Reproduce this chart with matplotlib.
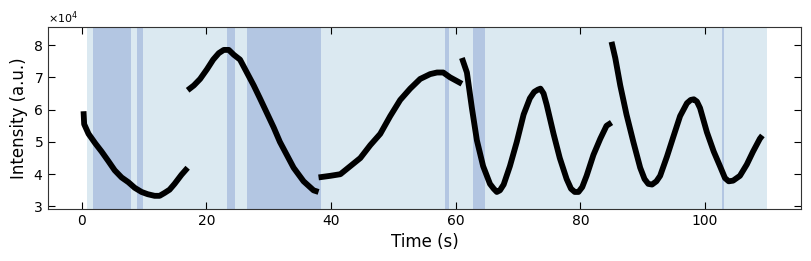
import matplotlib
matplotlib.use("Agg")
import matplotlib.pyplot as plt
from matplotlib.ticker import ScalarFormatter

# --- data ---
seg1_t = [0.3, 0.4, 1.1, 2.2, 3.2, 4.3, 5.3, 6.4, 7.5, 8.5, 9.6, 10.6, 11.7, 12.5, 13.3, 14.1, 14.9, 16.0, 17.0]
seg1_v = [5.95, 5.55, 5.25, 4.95, 4.7, 4.4, 4.12, 3.9, 3.75, 3.58, 3.45, 3.38, 3.33, 3.33, 3.42, 3.52, 3.7, 3.98, 4.2]

seg2_t = [17.0, 18.0, 19.0, 20.1, 21.1, 22.0, 22.8, 23.6, 24.4, 25.4, 26.5, 27.6, 28.6, 29.7, 30.8, 31.8, 32.9, 34.0, 35.6, 37.2, 38.0]
seg2_v = [6.6, 6.75, 6.95, 7.25, 7.55, 7.75, 7.85, 7.85, 7.7, 7.55, 7.15, 6.75, 6.35, 5.9, 5.45, 5.0, 4.6, 4.2, 3.78, 3.5, 3.45]

seg3_t = [38.0, 39.9, 41.5, 43.1, 44.7, 46.3, 47.9, 49.5, 51.1, 52.7, 54.3, 55.9, 57.0, 58.0, 59.1, 61.0]
seg3_v = [3.9, 3.95, 4.0, 4.25, 4.5, 4.9, 5.25, 5.8, 6.3, 6.65, 6.95, 7.1, 7.15, 7.15, 7.0, 6.8]

seg4_t = [61.0, 61.8, 62.6, 63.4, 64.4, 65.5, 66.1, 66.6, 67.1, 67.7, 68.7, 69.8, 70.9, 71.9, 72.6, 73.2, 73.6, 74.1, 74.6, 75.7, 76.7, 77.8, 78.5, 79.1, 79.7, 80.3, 81.0, 82.1, 83.2, 84.2, 85.0]
seg4_v = [7.6, 7.15, 6.05, 5.05, 4.25, 3.7, 3.55, 3.45, 3.5, 3.68, 4.25, 5.0, 5.85, 6.35, 6.55, 6.62, 6.65, 6.5, 6.15, 5.25, 4.5, 3.85, 3.55, 3.45, 3.45, 3.6, 3.95, 4.6, 5.1, 5.5, 5.6]

seg5_t = [85.0, 85.6, 86.4, 87.4, 88.5, 89.6, 90.3, 90.9, 91.5, 92.2, 92.8, 93.9, 94.9, 96.0, 97.1, 97.7, 98.2, 98.7, 99.2, 100.3, 101.4, 102.4, 103.2, 103.8, 104.5, 105.6, 106.7, 107.7, 108.8, 109.2]
seg5_v = [8.1, 7.6, 6.75, 5.85, 5.0, 4.2, 3.85, 3.7, 3.68, 3.78, 3.95, 4.55, 5.15, 5.8, 6.2, 6.3, 6.32, 6.25, 6.05, 5.3, 4.7, 4.25, 3.88, 3.78, 3.8, 3.95, 4.3, 4.7, 5.1, 5.2]

segments = [(seg1_t, seg1_v), (seg2_t, seg2_v), (seg3_t, seg3_v), (seg4_t, seg4_v), (seg5_t, seg5_v)]

light_span = (0.9, 110.0)
dark_spans = [(1.85, 7.95), (8.9, 9.85), (23.35, 24.6), (26.55, 38.4), (58.3, 58.9), (62.8, 64.7), (102.7, 103.05)]

scale = 1e4

fig = plt.figure(figsize=(8.11, 2.61), dpi=100)
ax = fig.add_axes([0.0592, 0.199, 0.9285, 0.6976])

ax.axvspan(light_span[0], light_span[1], color="#dbe9f1", lw=0, zorder=0)
for a, b in dark_spans:
    ax.axvspan(a, b, color="#b3c6e2", lw=0, zorder=1)

for t, v in segments:
    ax.plot(t, [x * scale for x in v], color="black", lw=4.2, solid_joinstyle="round", solid_capstyle="butt", zorder=3)

ax.set_xlim(-5.4, 115.4)
ax.set_ylim(2.92e4, 8.56e4)
ax.set_xticks([0, 20, 40, 60, 80, 100])
ax.set_yticks([3e4, 4e4, 5e4, 6e4, 7e4, 8e4])

fmt = ScalarFormatter(useMathText=True)
fmt.set_powerlimits((0, 0))
ax.yaxis.set_major_formatter(fmt)
ax.yaxis.get_offset_text().set_fontsize(8)

ax.tick_params(direction="in", top=True, right=True, labelsize=10, length=5)
ax.set_xlabel("Time (s)", fontsize=12)
ax.set_ylabel("Intensity (a.u.)", fontsize=12)
for s in ax.spines.values():
    s.set_color("#333333")

fig.savefig("out.png", dpi=100)
